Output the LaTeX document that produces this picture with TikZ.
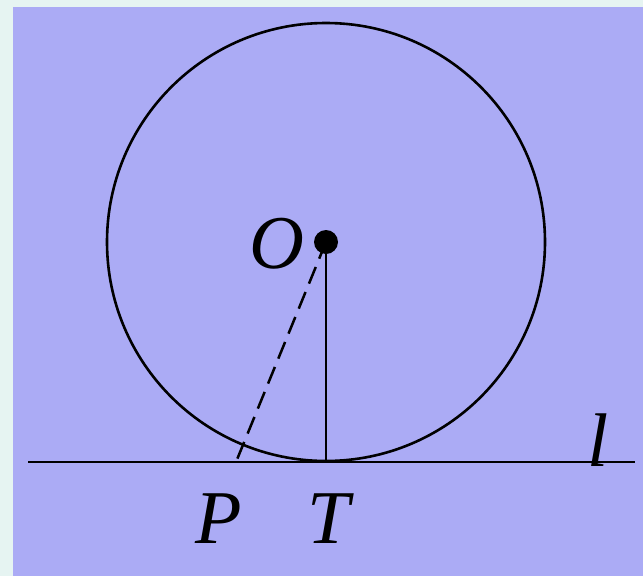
\documentclass[tikz,border=0pt]{standalone}
\usepackage{fontspec}
\setmainfont{Liberation Serif}
\definecolor{bgout}{HTML}{E6F4F2}
\definecolor{bgin}{HTML}{ABABF5}
\tikzset{
  lbl/.style={font=\fontsize{76}{76}\selectfont\itshape, inner sep=0pt},
  geo/.style={line width=2.5pt, black},
}
\begin{document}
\begin{tikzpicture}[x=1pt,y=-1pt]
\useasboundingbox (0,0) rectangle (643,576);
\fill[bgout] (0,0) rectangle (643,576);
\fill[bgin] (13,7) rectangle (643,576);
\coordinate (O) at (326,242);
\coordinate (T) at (326,462);
\coordinate (P) at (236,462);
\coordinate (L1) at (28,462);
\coordinate (L2) at (635,462);
\draw[geo, line width=2.6pt] (O) circle[radius=219];
\draw[geo] (L1) -- (L2);
\draw[geo] (O) -- (T);
\draw[geo, dash pattern=on 18pt off 9pt] (O) -- (P);
\fill[black] (O) circle[radius=12];
\node[lbl] (lO) at (277,244) {O};
\node[lbl] (lP) at (219,519) {P};
\node[lbl] (lT) at (329,519) {T};
\node[lbl] (ll) at (598,440) {l};
\end{tikzpicture}
\end{document}
